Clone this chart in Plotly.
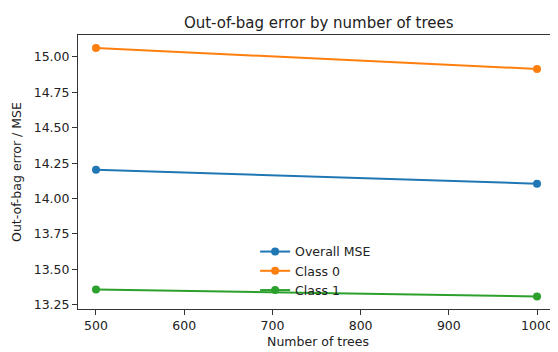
import plotly.graph_objects as go

n_trees = [500, 1000]
overall_mse = [14.204, 14.105]
class_0 = [15.063, 14.915]
class_1 = [13.357, 13.308]
series_names = ["Overall MSE", "Class 0", "Class 1"]
colors = ["#1f77b4", "#ff7f0e", "#2ca02c"]

fig = go.Figure()
for name, vals, c in zip(series_names, [overall_mse, class_0, class_1], colors):
    fig.add_trace(go.Scatter(
        x=n_trees, y=vals, name=name, mode="lines+markers",
        line=dict(color=c, width=2), marker=dict(color=c, size=8),
    ))

font = "DejaVu Sans, sans-serif"
fig.update_layout(
    width=550, height=344,
    margin=dict(l=70, r=0, t=27, b=43, autoexpand=False),
    paper_bgcolor="white", plot_bgcolor="white",
    font=dict(family=font, size=12.5, color="#222"),
    title=dict(text="Out-of-bag error by number of trees", x=0.565, xanchor="center",
               y=0.957, yanchor="middle", font=dict(size=15, color="#222")),
    legend=dict(x=0.369, y=0.263, xanchor="left", yanchor="top",
                bgcolor="rgba(0,0,0,0)", borderwidth=0, font=dict(size=12.5),
                itemwidth=30, tracegroupgap=0),
    showlegend=True,
)
fig.update_xaxes(
    range=[479.6, 1023.8], tickvals=[500, 600, 700, 800, 900, 1000],
    ticks="outside", ticklen=5, tickcolor="#333", showgrid=False, zeroline=False,
    showline=True, linecolor="#333", linewidth=1, mirror=True, automargin=False,
    title=dict(text="Number of trees", standoff=5, font=dict(size=12.5)),
)
fig.update_yaxes(
    range=[13.22, 15.155], tickvals=[13.25, 13.5, 13.75, 14.0, 14.25, 14.5, 14.75, 15.0],
    tickformat=".2f",
    ticks="outside", ticklen=5, tickcolor="#333", showgrid=False, zeroline=False,
    showline=True, linecolor="#333", linewidth=1, mirror=True, automargin=False,
    title=dict(text="Out-of-bag error / MSE", standoff=9, font=dict(size=12.5)),
)
fig.write_html("out.html")
